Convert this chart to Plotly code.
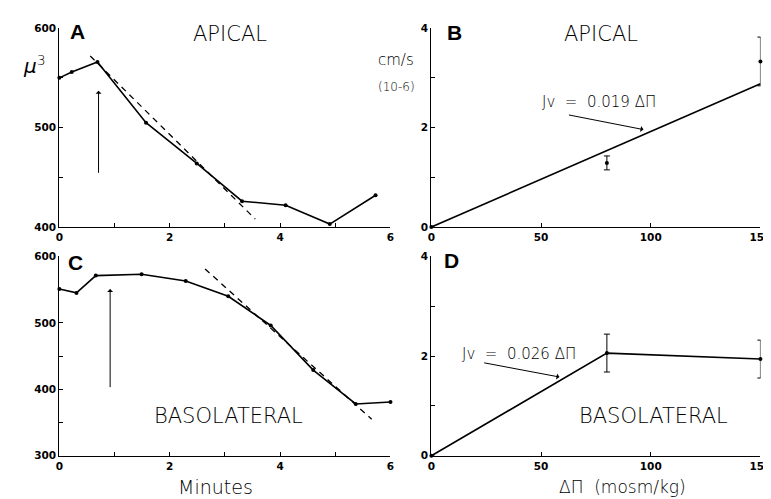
import plotly.graph_objects as go

# ---------------- data ----------------
# Panel A (apical) volume vs minutes
a_min = [0, 0.225, 0.69, 1.57, 2.49, 3.31, 4.1, 4.9, 5.73]
a_vol = [550, 556, 566, 505, 464, 426, 422, 403, 432]
a_fit_x = [0.56, 3.55]
a_fit_y = [572, 408]
a_arrow_x = [0.71, 0.71]
a_arrow_y = [453, 537]

# Panel B (apical) Jv vs delta Pi
b_dp = [0, 80, 150]
b_jv = [0, 1.29, 3.33]
b_err = [0, 0.14, 0.49]
b_fit_x = [0, 150]
b_fit_y = [0, 2.88]
b_arrow_x = [62, 96.7]
b_arrow_y = [2.26, 1.96]

# Panel C (basolateral) volume vs minutes
c_min = [0, 0.31, 0.66, 1.49, 2.29, 3.06, 3.83, 4.60, 5.37, 6.0]
c_vol = [551, 545, 571, 573, 563, 540, 496, 429, 378, 381]
c_fit_x = [2.64, 5.66]
c_fit_y = [581, 355]
c_arrow_x = [0.92, 0.92]
c_arrow_y = [401, 551]

# Panel D (basolateral) Jv vs delta Pi
d_dp = [0, 80, 150]
d_jv = [0, 2.06, 1.94]
d_err = [0, 0.38, 0.38]
d_arrow_x = [23.4, 58.4]
d_arrow_y = [1.87, 1.58]

min_ticks = [0, 2, 4, 6]
dp_ticks = [0, 50, 100, 150]
vol_ticks_a = [400, 500, 600]
vol_ticks_c = [300, 400, 500, 600]
jv_ticks = [0, 2, 4]

W, H = 771, 499
def px_x(p):
    return p / W
def px_y(p):
    return 1 - p / H

fig = go.Figure()
LW = 1.6
mk = dict(size=4, color="black")

fig.add_trace(go.Scatter(x=a_min, y=a_vol, mode="lines+markers", line=dict(color="black", width=LW),
                         marker=mk, xaxis="x", yaxis="y", showlegend=False, cliponaxis=False))
fig.add_trace(go.Scatter(x=a_fit_x, y=a_fit_y, mode="lines", line=dict(color="black", width=1.3, dash="6px,5px"),
                         xaxis="x", yaxis="y", showlegend=False))

fig.add_trace(go.Scatter(x=b_fit_x, y=b_fit_y, mode="lines", line=dict(color="black", width=LW),
                         xaxis="x2", yaxis="y2", showlegend=False, cliponaxis=False))
fig.add_trace(go.Scatter(x=b_dp, y=b_jv, mode="markers", marker=mk,
                         error_y=dict(type="data", array=b_err, color="black", thickness=1, width=3),
                         xaxis="x2", yaxis="y2", showlegend=False, cliponaxis=False))

fig.add_trace(go.Scatter(x=c_min, y=c_vol, mode="lines+markers", line=dict(color="black", width=LW),
                         marker=mk, xaxis="x3", yaxis="y3", showlegend=False, cliponaxis=False))
fig.add_trace(go.Scatter(x=c_fit_x, y=c_fit_y, mode="lines", line=dict(color="black", width=1.3, dash="6px,5px"),
                         xaxis="x3", yaxis="y3", showlegend=False))

fig.add_trace(go.Scatter(x=d_dp, y=d_jv, mode="lines+markers", line=dict(color="black", width=LW),
                         marker=mk,
                         error_y=dict(type="data", array=d_err, color="black", thickness=1, width=3),
                         xaxis="x4", yaxis="y4", showlegend=False, cliponaxis=False))

tickfont = dict(family="DejaVu Sans", size=10.5, color="black", weight="bold")
def xax(dom, rng, tv, minor_dtick=None, anchor="y"):
    d = dict(domain=dom, range=rng, tickvals=tv, ticks="inside", ticklen=4, tickwidth=1,
             showline=True, linecolor="black", linewidth=1.2, showgrid=False, zeroline=False,
             tickfont=tickfont, anchor=anchor, fixedrange=True, tickcolor="black")
    if minor_dtick:
        d["minor"] = dict(dtick=minor_dtick, ticks="inside", ticklen=4, tickcolor="black", showgrid=False)
    return d

xdomL = [px_x(48.3), px_x(386)]
xdomR = [px_x(427.7), px_x(763.3)]
ydomT = [px_y(218.3), px_y(14.5)]
ydomB = [px_y(452.7), px_y(248.3)]

fig.update_layout(
    width=W, height=H, margin=dict(l=0, r=0, t=0, b=0),
    paper_bgcolor="white", plot_bgcolor="white",
    xaxis=xax(xdomL, [0, 6], min_ticks, 1, "y"),
    yaxis=xax(ydomT, [400, 600], vol_ticks_a, 50, "x"),
    xaxis2=xax(xdomR, [0, 150], dp_ticks, None, "y2"),
    yaxis2=xax(ydomT, [0, 4], jv_ticks, 1, "x2"),
    xaxis3=xax(xdomL, [0, 6], min_ticks, 1, "y3"),
    yaxis3=xax(ydomB, [300, 600], vol_ticks_c, 50, "x3"),
    xaxis4=xax(xdomR, [0, 150], dp_ticks, None, "y4"),
    yaxis4=xax(ydomB, [0, 4], jv_ticks, 1, "x4"),
)

thin = dict(family="DejaVu Sans", size=21, color="black", weight=200)
label = dict(family="DejaVu Sans", size=19, color="black", weight=200)
eqf = dict(family="DejaVu Sans", size=15, color="black", weight=200)
letf = dict(family="Liberation Sans", size=21, color="black", weight="bold")

ann = []
def txt(x, y, t, f, xr="paper", yr="paper"):
    ann.append(dict(x=x, y=y, xref=xr, yref=yr, text=t, font=f, showarrow=False,
                    xanchor="center", yanchor="middle"))

txt(0.32, 597, "A", letf, "x", "y")
txt(3.09, 594, "APICAL", thin, "x", "y")
txt(10.4, 3.91, "B", letf, "x2", "y2")
txt(77.1, 3.88, "APICAL", thin, "x2", "y2")
txt(76.2, 2.51, "Jv  =  0.019 ΔΠ", eqf, "x2", "y2")
txt(0.29, 590, "C", letf, "x3", "y3")
txt(3.07, 360, "BASOLATERAL", thin, "x3", "y3")
txt(9.3, 3.92, "D", letf, "x4", "y4")
txt(39.8, 2.05, "Jv  =  0.026 ΔΠ", eqf, "x4", "y4")
txt(101.2, 0.80, "BASOLATERAL", thin, "x4", "y4")
txt(px_x(208), px_y(485), "Minutes", label)
txt(px_x(623), px_y(485), "ΔΠ  (mosm/kg)", dict(family="DejaVu Sans", size=17, color="black", weight=200))
txt(px_x(23), px_y(52), "<i>μ</i><sup>3</sup>", dict(family="DejaVu Sans", size=20, color="black", weight=200))
txt(px_x(392), px_y(47), "cm/s", dict(family="DejaVu Sans", size=15, color="black", weight=200))
txt(px_x(392), px_y(75), "(10-6)", dict(family="DejaVu Sans", size=12, color="black", weight=200))

def arrow(xs, ys, xr, yr):
    ann.append(dict(x=xs[1], y=ys[1], ax=xs[0], ay=ys[0], xref=xr, yref=yr, axref=xr, ayref=yr,
                    text="", showarrow=True, arrowhead=1, arrowsize=1.0, arrowwidth=1, arrowcolor="black"))

arrow(a_arrow_x, a_arrow_y, "x", "y")
arrow(b_arrow_x, b_arrow_y, "x2", "y2")
arrow(c_arrow_x, c_arrow_y, "x3", "y3")
arrow(d_arrow_x, d_arrow_y, "x4", "y4")

fig.update_layout(annotations=ann)
fig.write_html("out.html")
